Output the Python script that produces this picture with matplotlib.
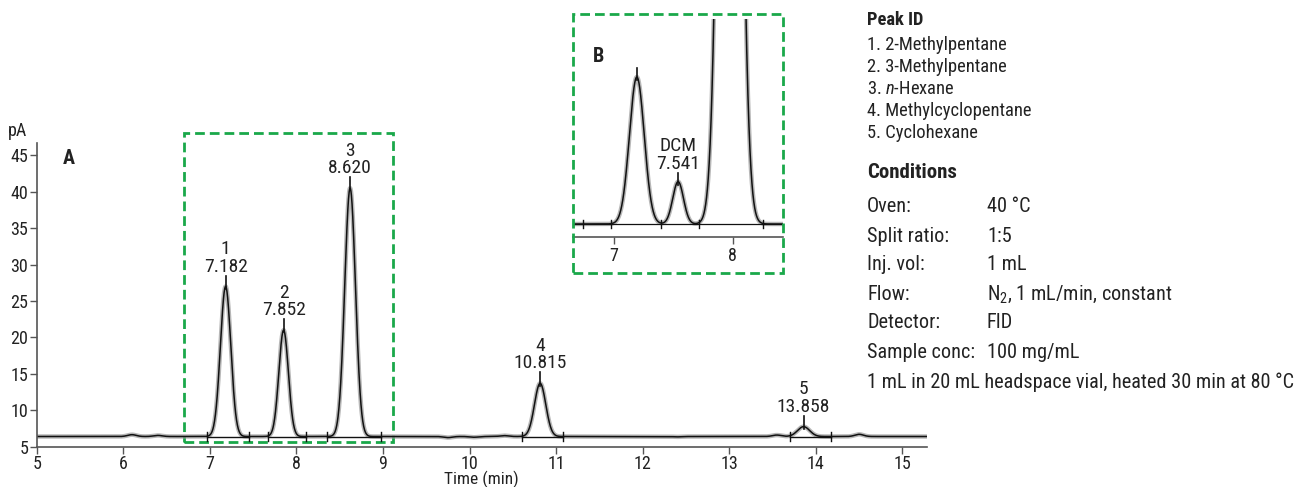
import numpy as np
import matplotlib
matplotlib.use('Agg')
import matplotlib.pyplot as plt
from matplotlib import font_manager
from matplotlib.patches import Rectangle

# pick a condensed face close to the original's Univers Condensed
bold_ok = {f.name for f in font_manager.fontManager.ttflist if f.weight in (700, 'bold')}
choices = ['Roboto Condensed', 'Archivo Narrow', 'PT Sans Narrow', 'IBM Plex Sans Condensed',
           'Fira Sans Condensed', 'Liberation Sans Narrow', 'Roboto']
family = next(c for c in choices if c in bold_ok)

plt.rcParams['font.family'] = [family, 'DejaVu Sans']
plt.rcParams['mathtext.fontset'] = 'custom'
plt.rcParams['mathtext.rm'] = family
plt.rcParams['mathtext.it'] = family + ':italic'

# main chromatogram (A): peak table
peak_ids = ['1', '2', '3', '4', '5']
peak_rt = [7.182, 7.852, 8.620, 10.815, 13.858]
peak_height = [20.6, 14.6, 34.1, 7.3, 1.35]     # pA above baseline
peak_sigma = [0.060, 0.055, 0.062, 0.065, 0.07]
baseline_pa = 6.4
bump_rt = [6.1, 6.4, 9.75, 10.05, 10.4, 12.4, 13.55, 14.5]
bump_height = [0.25, 0.15, -0.15, -0.1, 0.12, -0.05, 0.2, 0.3]
int_start = [6.963, 7.675, 8.349, 10.608, 13.698]
int_end = [7.455, 8.110, 8.976, 11.080, 14.170]

# inset (B): relative response, peak 1 = 1
inset_rt = [7.195, 7.541, 7.975]
inset_height = [1.0, 0.288, 9.0]
inset_sigma = [0.062, 0.045, 0.07]
inset_marks = [6.746, 6.975, 7.40, 7.72, 8.25]

peak_names = ['1. 2-Methylpentane', '2. 3-Methylpentane', '3. $\\mathit{n}$-Hexane',
              '4. Methylcyclopentane', '5. Cyclohexane']
cond_labels = ['Oven:', 'Split ratio:', 'Inj. vol:', 'Flow:', 'Detector:', 'Sample conc:']
cond_values = ['40 °C', '1:5', '1 mL', 'N$_2$, 1 mL/min, constant', 'FID', '100 mg/mL']
cond_note = '1 mL in 20 mL headspace vial, heated 30 min at 80 °C'

W, H = 1314, 487
green = '#1aa84a'
ink = '#111111'
txt = '#222222'


def fx(px):
    return px / W


def fy(py):
    return 1 - py / H


fig = plt.figure(figsize=(W / 100, H / 100), dpi=100)

# ---- main chromatogram
ax = fig.add_axes([fx(36.7), fy(446.7), fx(926.7 - 36.7), (446.7 - 143) / H])
t = np.linspace(5, 15.28, 4000)
y = np.full_like(t, baseline_pa)
for rt, h, s in zip(peak_rt, peak_height, peak_sigma):
    y += h * np.exp(-(t - rt) ** 2 / (2 * s ** 2))
for rt, h in zip(bump_rt, bump_height):
    y += h * np.exp(-(t - rt) ** 2 / (2 * 0.05 ** 2))
ax.plot(t, y, color='#999999', lw=3.2, alpha=0.7)
ax.plot(t, y, color=ink, lw=1.1)

for s, e in zip(int_start, int_end):
    ax.plot([s, e], [baseline_pa, baseline_pa], color=ink, lw=1)
    for v in (s, e):
        ax.plot([v, v], [baseline_pa - 0.55, baseline_pa + 0.55], color=ink, lw=1)

for pid, rt, h in zip(peak_ids, peak_rt, peak_height):
    top = baseline_pa + h
    ax.plot([rt, rt], [top - 0.3, top + 1.5], color=ink, lw=1.2)
    ax.annotate(f'{pid}\n{rt:.3f}', (rt, top + 1.5), xytext=(0, 0), textcoords='offset points',
                ha='center', va='bottom', fontsize=14, linespacing=0.98, color=txt)

ax.set_xlim(5, 15.28)
ax.set_ylim(5, 46.7)
ax.set_xticks(range(5, 16))
ax.set_yticks(range(5, 46, 5))
for side in ('top', 'right'):
    ax.spines[side].set_visible(False)
for side in ('left', 'bottom'):
    ax.spines[side].set_color('#555555')
    ax.spines[side].set_linewidth(1.2)
ax.tick_params(length=5, width=1, color='#555555', labelsize=13, labelcolor=txt, pad=1)
ax.text(0.0296, 0.95, 'A', transform=ax.transAxes, fontsize=14.5, fontweight='bold',
        va='center', color=txt)

ax.add_patch(Rectangle((6.70, 5.65), 9.115 - 6.70, 48.1 - 5.65, fill=False, ec=green, lw=2,
                       ls=(0, (3.5, 1.8)), clip_on=False))

fig.text(fx(8), fy(131), 'pA', fontsize=13, va='center', color=txt)
fig.text(fx(481), fy(479), 'Time (min)', fontsize=12.5, ha='center', va='center', color=txt)

# ---- inset B
axb = fig.add_axes([fx(573), fy(237), fx(210), (237 - 19) / H])
tb = np.linspace(6.66, 8.42, 2000)
yb = np.zeros_like(tb)
for rt, h, s in zip(inset_rt, inset_height, inset_sigma):
    yb += h * np.exp(-(tb - rt) ** 2 / (2 * s ** 2))
axb.plot(tb, yb, color='#999999', lw=3.2, alpha=0.7)
axb.plot(tb, yb, color=ink, lw=1.1)
axb.plot([6.66, 8.42], [0, 0], color=ink, lw=0.9)
for v in inset_marks:
    axb.plot([v, v], [-0.025, 0.025], color=ink, lw=1)
for rt, h in zip(inset_rt[:2], inset_height[:2]):
    axb.plot([rt, rt], [h - 0.02, h + 0.06], color=ink, lw=1.2)
axb.annotate(f'DCM\n{inset_rt[1]:.3f}', (inset_rt[1], inset_height[1] + 0.06), xytext=(0, 0),
             textcoords='offset points', ha='center', va='bottom', fontsize=14,
             linespacing=0.98, color=txt)
axb.set_xlim(6.66, 8.42)
axb.set_ylim(-13 / 147, (224 - 19) / 147)
axb.set_xticks([7, 8])
axb.set_yticks([])
for side in ('top', 'right', 'left'):
    axb.spines[side].set_visible(False)
axb.spines['bottom'].set_color('#555555')
axb.spines['bottom'].set_linewidth(1.2)
axb.tick_params(length=5, width=1, color='#555555', labelsize=13, labelcolor=txt, pad=2)
axb.patch.set_alpha(0)
fig.text(fx(593), fy(57), 'B', fontsize=14.5, fontweight='bold', va='center', color=txt)
fig.patches.append(Rectangle((fx(573), fy(273)), fx(210), (273 - 14) / H, fill=False, ec=green,
                             lw=2, ls=(0, (3.5, 1.8)), transform=fig.transFigure, figure=fig))

# ---- right-hand notes
fig.text(fx(867), fy(20), 'Peak ID', fontsize=13.3, fontweight='bold', va='center', color=txt)
for i, name in enumerate(peak_names):
    fig.text(fx(867), fy(45 + 22 * i), name, fontsize=13.3, va='center', color=txt)
fig.text(fx(867), fy(173), 'Conditions', fontsize=15, fontweight='bold', va='center', color=txt)
for i, (lab, val) in enumerate(zip(cond_labels, cond_values)):
    fig.text(fx(867), fy(207 + 29 * i), lab, fontsize=14.6, va='center', color=txt)
    fig.text(fx(987), fy(207 + 29 * i), val, fontsize=14.6, va='center', color=txt)
fig.text(fx(867), fy(382), cond_note, fontsize=14.6, va='center', color=txt)

fig.savefig('out.png', dpi=100)
